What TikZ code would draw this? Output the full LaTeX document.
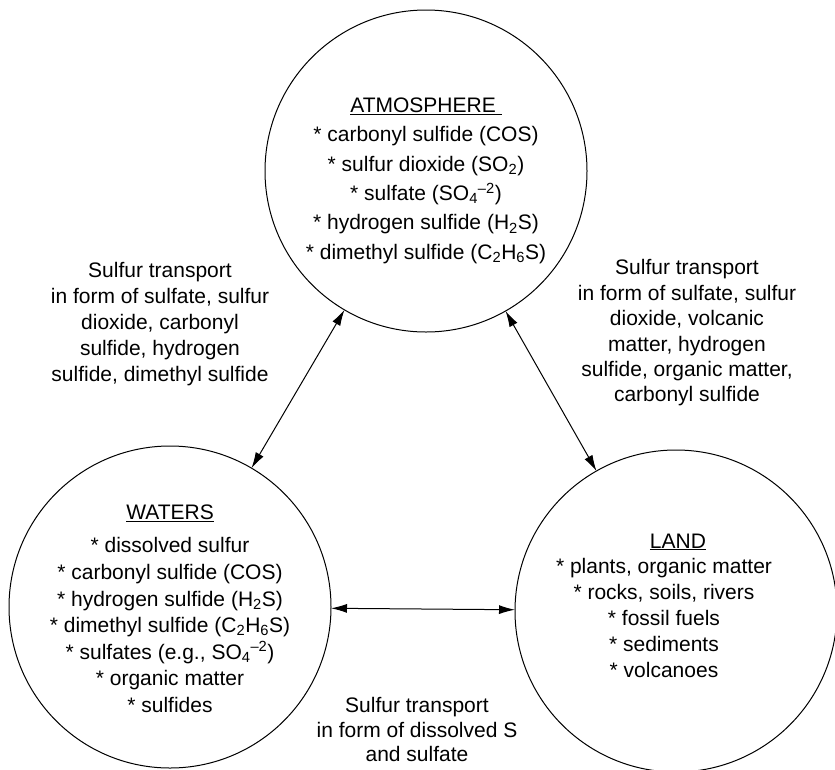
\documentclass[tikz,border=0pt]{standalone}
\usepackage{fontspec}
\setmainfont{Liberation Sans}
\usetikzlibrary{arrows.meta,positioning}

\begin{document}
\begin{tikzpicture}[x=1pt,y=-1pt,
  pool/.style={circle,draw,line width=1pt,minimum size=322pt,inner sep=0pt,outer sep=0pt},
  txt/.style={align=center,inner sep=0pt,anchor=north,font=\fontsize{21pt}{26pt}\selectfont},
  flux/.style={{Latex[length=16pt,width=9pt]}-{Latex[length=16pt,width=9pt]},line width=1pt}]
\useasboundingbox (0,0) rectangle (835,769);
% reservoirs
\node[pool](atm) at (426,171){};
\node[pool](wat) at (170,607){};
\node[pool](land) at (676,611){};
\node[txt,font=\fontsize{21pt}{29.4pt}\selectfont,below=87.5pt of atm.north](atmtxt){\underline{ATMOSPHERE\ }\\
  * carbonyl sulfide (COS)\\ * sulfur dioxide (SO\textsubscript{2})\\
  * sulfate (SO\textsubscript{4}\textsuperscript{--2})\\ * hydrogen sulfide (H\textsubscript{2}S)\\
  * dimethyl sulfide (C\textsubscript{2}H\textsubscript{6}S)};
\node[txt,font=\fontsize{21pt}{26.6pt}\selectfont,below=58.5pt of wat.north](wattxt){\underline{WATERS}\\[7pt]
  * dissolved sulfur\\ * carbonyl sulfide (COS)\\ * hydrogen sulfide (H\textsubscript{2}S)\\
  * dimethyl sulfide (C\textsubscript{2}H\textsubscript{6}S)\\ * sulfates (e.g., SO\textsubscript{4}\textsuperscript{--2})\\
  * organic matter\\ * sulfides};
\node[txt,font=\fontsize{21pt}{25.8pt}\selectfont,below=83.5pt of land.north,xshift=-12pt](landtxt){\hspace*{28pt}\underline{LAND}\\
  * plants, organic matter\\ * rocks, soils, rivers\\ * fossil fuels\\ * sediments\\ * volcanoes};
% transport labels
\node[txt](lflux) at (160,262.5){Sulfur transport\\ in form of sulfate, sulfur\\ dioxide, carbonyl\\ sulfide, hydrogen\\ sulfide, dimethyl sulfide};
\node[txt,font=\fontsize{21pt}{25.4pt}\selectfont](rflux) at (687,259.5){Sulfur transport\\ in form of sulfate, sulfur\\ dioxide, volcanic\\ matter, hydrogen\\ sulfide, organic matter,\\ carbonyl sulfide};
\node[txt,font=\fontsize{21pt}{24.5pt}\selectfont](bflux) at (417,697.5){Sulfur transport\\ in form of dissolved S\\ and sulfate};
\draw[flux](atm)--(wat);\draw[flux](atm)--(land);\draw[flux](wat)--(land);
\end{tikzpicture}
\end{document}
